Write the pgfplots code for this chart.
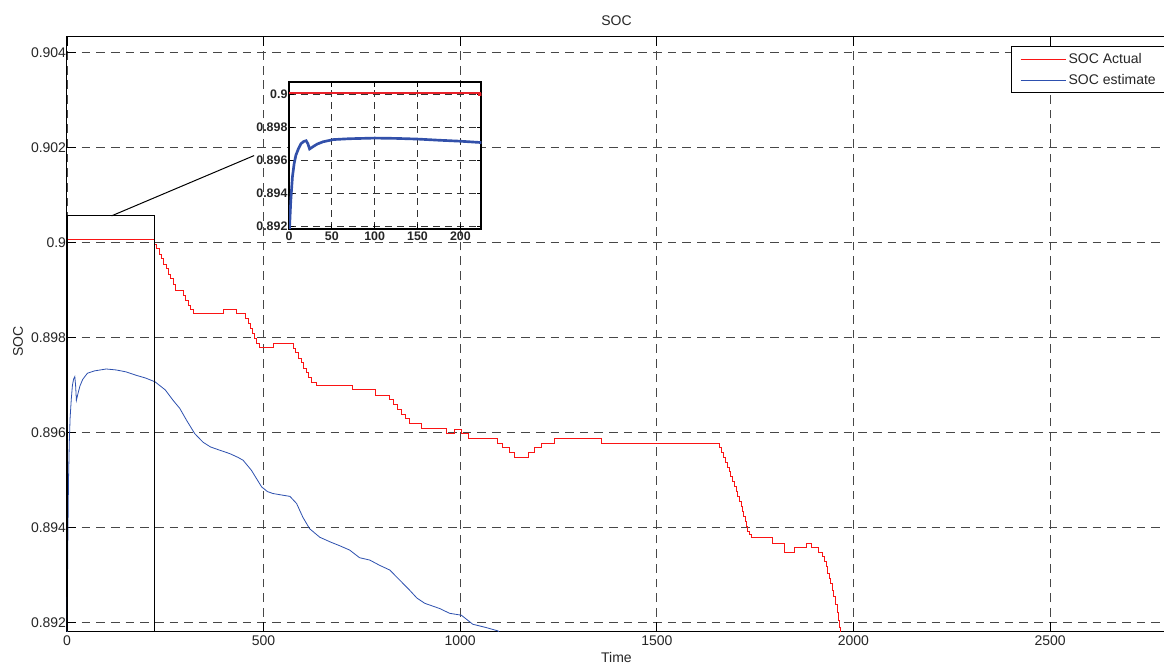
\documentclass[border=0pt]{standalone}
\usepackage{fontspec}
\setmainfont{Liberation Sans}
\usepackage{pgfplots}
\usepackage{pgfplotstable}
\pgfplotsset{compat=1.18}

% State of charge: reference (stepwise) and filter estimate
\pgfplotstableread{
x y
0 0.90007
222 0.89997
228 0.89987
234 0.89976
240 0.89966
246 0.89955
252 0.89945
258 0.89934
264 0.89924
270 0.89913
276 0.89899
296 0.89889
302 0.89878
308 0.89868
314 0.89859
321 0.89850
397 0.89859
431 0.89850
455 0.89840
461 0.89830
466 0.89819
471 0.89809
476 0.89799
482 0.89788
489 0.89779
524 0.89788
575 0.89778
582 0.89768
588 0.89757
595 0.89747
601 0.89736
608 0.89726
614 0.89716
621 0.89705
634 0.89700
727 0.89691
785 0.89679
821 0.89669
830 0.89659
840 0.89649
850 0.89639
860 0.89629
870 0.89619
901 0.89609
966 0.89598
986 0.89607
1004 0.89598
1022 0.89588
1095 0.89578
1108 0.89569
1126 0.89559
1138 0.89548
1174 0.89559
1189 0.89569
1207 0.89578
1240 0.89588
1359 0.89578
1659 0.89568
1664 0.89558
1669 0.89548
1674 0.89538
1679 0.89528
1684 0.89518
1688 0.89507
1693 0.89497
1697 0.89486
1702 0.89476
1706 0.89465
1710 0.89455
1714 0.89444
1717 0.89434
1721 0.89423
1724 0.89413
1728 0.89402
1731 0.89392
1736 0.89385
1740 0.89379
1794 0.89368
1824 0.89349
1850 0.89359
1880 0.89368
1893 0.89359
1911 0.89349
1921 0.89339
1926 0.89329
1930 0.89318
1934 0.89304
1938 0.89293
1942 0.89283
1946 0.89269
1950 0.89255
1954 0.89238
1958 0.89222
1962 0.89205
1965 0.89190
1968 0.89170
1975 0.89150
}\socactual

\pgfplotstableread{
x y
0 0.8912
2 0.8935
4 0.8950
6 0.8958
8 0.8963
11 0.8967
14 0.8970
17 0.89713
20 0.89718
22 0.89700
24 0.89668
28 0.89682
33 0.89698
40 0.89712
52 0.89725
70 0.89730
100 0.89734
125 0.89732
150 0.89728
175 0.89721
200 0.89715
224 0.89707
250 0.89690
270 0.89668
287 0.89651
305 0.89625
325 0.89598
346 0.89580
365 0.89570
389 0.89563
414 0.89556
435 0.89548
448 0.89542
469 0.89521
495 0.89486
510 0.89476
524 0.89472
545 0.89469
567 0.89466
584 0.89451
600 0.89422
617 0.89398
643 0.89380
670 0.89370
694 0.89362
719 0.89353
744 0.89337
770 0.89332
795 0.89321
821 0.89311
846 0.89290
871 0.89269
890 0.89252
910 0.89241
948 0.89230
973 0.89220
1003 0.89216
1032 0.89197
1066 0.89190
1096 0.89183
1110 0.89170
}\socestimate

\definecolor{socred}{RGB}{250,20,20}
\definecolor{socblue}{RGB}{45,80,175}
\definecolor{zoomred}{RGB}{232,32,40}
\definecolor{zoomblue}{RGB}{50,80,170}
\definecolor{labelgray}{RGB}{38,38,38}

\newcommand{\mainfont}{\fontsize{10.5}{12}\selectfont}
\newcommand{\zoomfont}{\bfseries\fontsize{9.3}{10}\selectfont}

\begin{document}
\begin{tikzpicture}
% white page behind the figure
\fill[white] (-52pt,-26pt) rectangle (830pt,476pt);
\begin{axis}[
  scale only axis,
  width=841.3pt, height=446.7pt,
  xmin=0, xmax=2850, ymin=0.89182, ymax=0.90434,
  xtick={0,500,1000,1500,2000,2500},
  xticklabels={0,500,1000,1500,2000,2500},
  ytick={0.892,0.894,0.896,0.898,0.9,0.902,0.904},
  yticklabels={0.892,0.894,0.896,0.898,0.9,0.902,0.904},
  tick align=inside, major tick length=7pt,
  tick style={black, line width=0.6pt},
  grid=major,
  major grid style={black!72, line width=0.6pt, dash pattern=on 6.5pt off 4.5pt},
  axis line style={black, line width=0.75pt},
  ticklabel style={font=\mainfont, text=labelgray},
  yticklabel style={inner sep=0pt, xshift=-0.5pt},
  xticklabel style={inner sep=0pt, yshift=-3pt},
  title={SOC},
  title style={at={(axis description cs:0.4903,1)}, anchor=center, yshift=5.8pt, font=\mainfont, text=labelgray},
  xlabel={Time},
  xlabel style={at={(axis description cs:0.4903,0)}, anchor=center, yshift=-19.3pt, font=\mainfont, text=labelgray},
  ylabel={SOC},
  ylabel style={at={(axis description cs:-0.04368,0.487)}, anchor=center, font=\mainfont, text=labelgray},
  legend cell align=left,
  legend style={at={(axis description cs:0.8421,0.9836)}, anchor=north west,
    draw=black, line width=0.75pt, fill=white, font=\mainfont, text=labelgray,
    inner xsep=6.75pt, inner ysep=3pt, row sep=2.5pt,
    /tikz/every even column/.append style={column sep=4pt}},
]
\addplot[const plot, color=socred, line width=0.6pt,
  legend image code/.code={\draw[draw=socred, line width=0.6pt] (0pt,0pt) -- (33.75pt,0pt);}]
  table[x=x, y=y] {\socactual};
\addlegendentry{SOC Actual}
\addplot[color=socblue, line width=0.6pt,
  legend image code/.code={\draw[draw=socblue, line width=0.6pt] (0pt,0pt) -- (33.75pt,0pt);}]
  table[x=x, y=y] {\socestimate};
\addlegendentry{SOC estimate\hspace*{10pt}}
% zoom window and its leader line
\addplot[black, line width=0.9pt, forget plot] coordinates {(0,0.89182) (0,0.900562) (223.6,0.900562) (223.6,0.89182)};
\addplot[black, line width=0.75pt, forget plot] coordinates {(113.6,0.900562) (475.9,0.90183)};
\end{axis}

% magnified view of the first 225 s
\begin{axis}[
  at={(166.7pt,302.25pt)}, anchor=south west,
  scale only axis,
  width=144.3pt, height=110pt,
  xmin=0, xmax=224.4, ymin=0.89186, ymax=0.90072,
  xtick={0,50,100,150,200},
  xticklabels={0,50,100,150,200},
  ytick={0.892,0.894,0.896,0.898,0.9},
  yticklabels={0.892,0.894,0.896,0.898,0.9},
  tick align=inside, major tick length=3.5pt,
  tick style={black, line width=0.8pt},
  grid=major,
  major grid style={black!80, line width=0.6pt, dash pattern=on 5pt off 4pt},
  axis line style={black, line width=1.2pt},
  axis background/.style={fill=white},
  ticklabel style={font=\zoomfont, text=labelgray},
  yticklabel style={inner sep=0pt, xshift=-1pt},
  xticklabel style={inner sep=0pt, yshift=-2pt},
]
\addplot[const plot, color=zoomred, line width=2pt] table[x=x, y=y] {\socactual};
\addplot[color=zoomblue, line width=2pt] table[x=x, y=y] {\socestimate};
\end{axis}

\pgfresetboundingbox
\path[use as bounding box] (-50.25pt,-24.5pt) rectangle (823.5pt,473.93pt);
\end{tikzpicture}
\end{document}
